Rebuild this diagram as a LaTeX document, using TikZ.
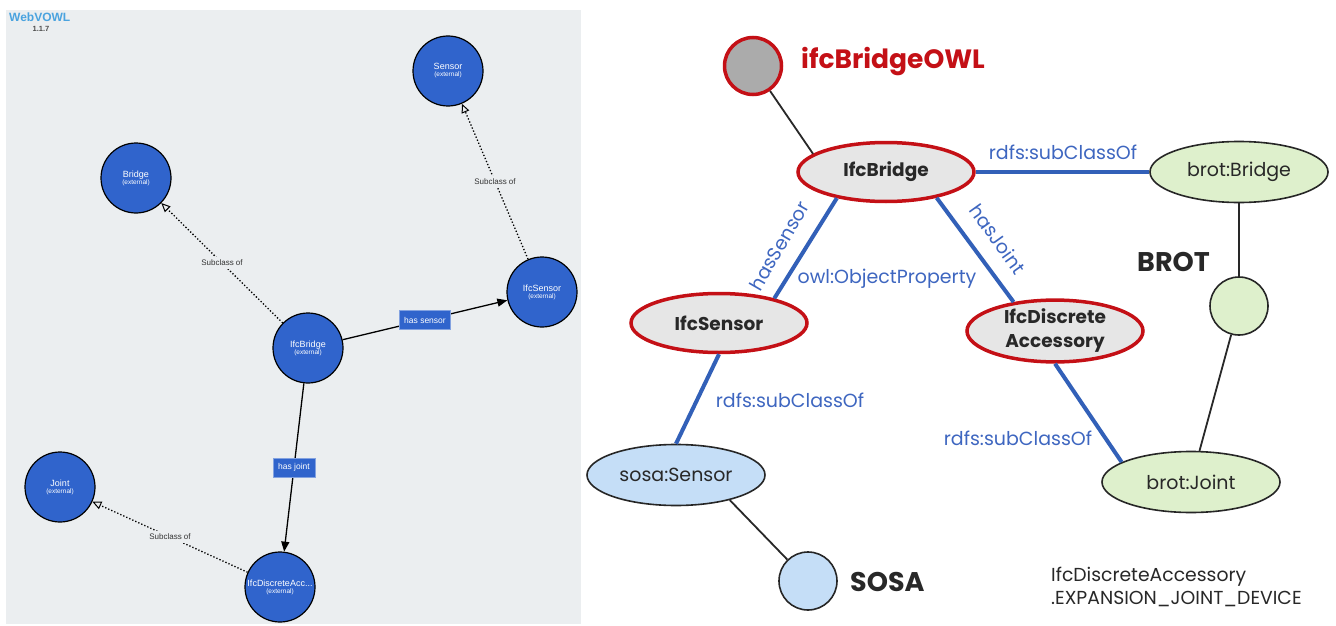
\documentclass[tikz,border=0pt]{standalone}
\usepackage{fontspec}
\setmainfont{Poppins}
\newfontfamily\arialfont{Liberation Sans}
\usetikzlibrary{arrows.meta,shapes.geometric}

\definecolor{panelbg}{RGB}{235,238,240}
\definecolor{vowlblue}{RGB}{48,100,204}
\definecolor{vowltitle}{RGB}{74,163,223}
\definecolor{owlred}{RGB}{196,16,22}
\definecolor{edgeblue}{RGB}{50,96,184}
\definecolor{lblblue}{RGB}{62,102,192}
\definecolor{classgray}{RGB}{230,230,230}
\definecolor{brotgreen}{RGB}{222,240,204}
\definecolor{sosablue}{RGB}{197,222,247}
\definecolor{inkgray}{RGB}{40,40,40}

\tikzset{
  vclass/.style={circle, draw=black, line width=1.2pt, fill=vowlblue, minimum size=70pt,
    inner sep=0pt, text=white, align=center, font=\arialfont\fontsize{9}{10}\selectfont},
  vprop/.style={rectangle, fill=vowlblue, draw=vowlblue!60!white, line width=0.6pt, text=white,
    font=\arialfont\fontsize{8.5}{10}\selectfont, minimum height=19pt, inner xsep=5pt},
  vsub/.style={fill=panelbg, text=black!80, font=\arialfont\fontsize{8}{9}\selectfont, inner sep=3pt},
  vdotted/.style={dotted, line width=1.3pt, -{Triangle[open, length=9pt, width=8pt, line width=1pt, fill=panelbg]}},
  vsolid/.style={line width=1.3pt, -{Triangle[length=10pt, width=8pt]}},
  ifcclass/.style={ellipse, draw=owlred, line width=3.5pt, fill=classgray, minimum width=176pt,
    minimum height=59pt, inner sep=0pt, align=center, text=inkgray,
    font=\fontsize{18.5}{24}\selectfont\bfseries},
  extclass/.style={ellipse, draw=black!85, line width=1.6pt, minimum width=178pt,
    minimum height=61pt, inner sep=0pt, text=inkgray, font=\fontsize{19}{22}\selectfont},
  extdot/.style={circle, draw=black!85, line width=1.6pt, minimum size=58pt, inner sep=0pt},
  blueedge/.style={edgeblue, line width=4pt},
  thinedge/.style={inkgray, line width=1.8pt},
  bluelabel/.style={text=lblblue, font=\fontsize{19}{21}\selectfont, inner sep=0pt},
  grouplabel/.style={text=inkgray, font=\fontsize{27}{30}\selectfont\bfseries, inner sep=0pt, anchor=west},
}

\begin{document}
\begin{tikzpicture}[x=1pt, y=-1pt]
\useasboundingbox (0,0) rectangle (1336,626);
\fill[white] (0,0) rectangle (1336,626);

% ---------- WebVOWL view ----------
\fill[panelbg] (6,10) rectangle (581,624);
\node[font=\arialfont\bfseries\fontsize{12}{12}\selectfont, text=vowltitle, anchor=west, inner sep=0pt]
  (vowlname) at (9,17.5) {WebVOWL};
\node[font=\arialfont\bfseries\fontsize{7.5}{8}\selectfont, text=black!70, inner sep=0pt]
  (vowlver) at (41,29) {1.1.7};

\newcommand{\ext}{\\[-3pt]{\fontsize{6.5}{7}\selectfont(external)}}
\node[vclass] (lsensor) at (448,71)  {Sensor\ext};
\node[vclass] (lbridge) at (136,178) {Bridge\ext};
\node[vclass] (lifcsensor) at (542,292) {IfcSensor\ext};
\node[vclass] (lifcbridge) at (308,348) {IfcBridge\ext};
\node[vclass] (ljoint) at (60,487) {Joint\ext};
\node[vclass] (lifcacc) at (280,587) {IfcDiscreteAcc...\ext};

\draw[vdotted] (lifcbridge) -- node[vsub] (sub1) {Subclass of} (lbridge);
\draw[vdotted] (lifcsensor) -- node[vsub] (sub2) {Subclass of} (lsensor);
\draw[vdotted] (lifcacc) -- node[vsub] (sub3) {Subclass of} (ljoint);
\draw[vsolid] (lifcbridge) -- node[vprop] (hassensor) {has sensor} (lifcsensor);
\draw[vsolid] (lifcbridge) -- node[vprop] (hasjoint) {has joint} (lifcacc);

% ---------- ontology alignment view ----------
\node[circle, draw=owlred, line width=3.5pt, fill=black!33, minimum size=57pt, inner sep=0pt]
  (owl) at (753,66) {};
\node[text=owlred, font=\fontsize{26.5}{30}\selectfont\bfseries, inner sep=0pt, anchor=west]
  (owlname) at (801,62) {ifcBridgeOWL};

\node[ifcclass] (ifcbridge) at (886,172) {IfcBridge};
\node[ifcclass] (ifcsensor) at (719,323) {IfcSensor};
\node[ifcclass] (ifcacc) at (1055,331) {IfcDiscrete\\Accessory};

\node[extclass, fill=brotgreen] (brotbridge) at (1239,172) {brot:Bridge};
\node[extdot, fill=brotgreen] (brot) at (1239,306) {};
\node[extclass, fill=brotgreen] (brotjoint) at (1191,482) {brot:Joint};
\node[grouplabel] (brotname) at (1137,262) {BROT};

\node[extclass, fill=sosablue] (sosasensor) at (676,475) {sosa:Sensor};
\node[extdot, fill=sosablue] (sosa) at (808,581) {};
\node[grouplabel] (sosaname) at (850,582) {SOSA};

% ontology membership
\draw[thinedge] (owl) -- (ifcbridge.166);
\draw[thinedge] (brotbridge) -- (brot);
\draw[thinedge] (brot) -- (brotjoint);
\draw[thinedge] (sosasensor.-25) -- (sosa);

% relations
\draw[blueedge] (ifcbridge) -- (brotbridge);
\draw[blueedge] (ifcbridge.208) -- (ifcsensor.24);
\draw[blueedge] (ifcbridge.-27) -- (ifcacc.145);
\draw[blueedge] (ifcsensor.south) -- (sosasensor.north);
\draw[blueedge] (ifcacc.south) -- (brotjoint.164);

\node[bluelabel] (lbl1) at (1063,152) {rdfs:subClassOf};
\node[bluelabel, rotate=60] (lbl2) at (779,246) {hasSensor};
\node[bluelabel, rotate=-54.5] (lbl3) at (998,239) {hasJoint};
\node[bluelabel] (lbl4) at (887,279) {owl:ObjectProperty};
\node[bluelabel] (lbl5) at (790,400) {rdfs:subClassOf};
\node[bluelabel] (lbl6) at (1018,438) {rdfs:subClassOf};

\node[text=inkgray, font=\fontsize{18.8}{23}\selectfont, inner sep=0pt, anchor=north west, align=left]
  (enumval) at (1051,567) {IfcDiscreteAccessory\\.EXPANSION\_JOINT\_DEVICE};
\end{tikzpicture}
\end{document}
